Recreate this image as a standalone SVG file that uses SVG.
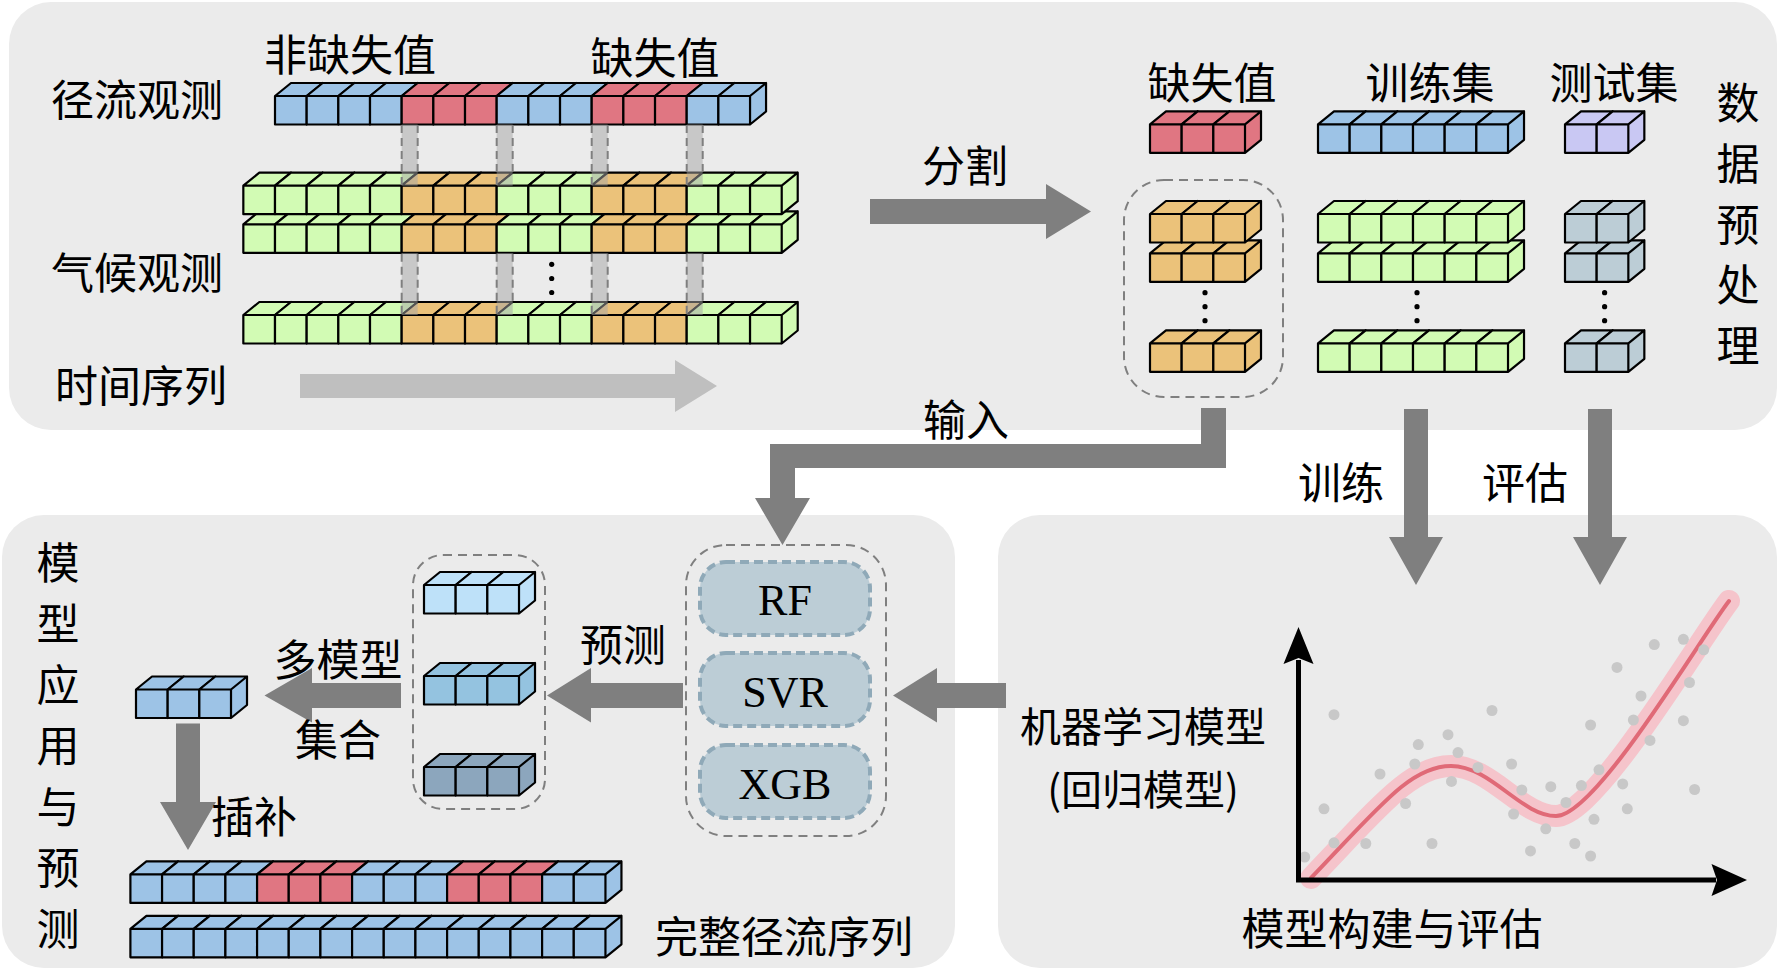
<svg xmlns="http://www.w3.org/2000/svg" width="1779" height="970" viewBox="0 0 1779 970">
<style>
.panel{fill:#ebebeb}
.t{font-family:"Noto Sans CJK SC","Noto Sans CJK JP",sans-serif;font-size:43px;fill:#000;text-anchor:middle;dominant-baseline:central}
.t2{font-family:"Noto Sans CJK SC","Noto Sans CJK JP",sans-serif;font-size:41px;fill:#000;text-anchor:middle;dominant-baseline:central}
.m{font-family:"Liberation Serif",serif;font-size:44px;fill:#000;text-anchor:middle;dominant-baseline:central}
.cube{stroke:#000;stroke-width:2.2;stroke-linejoin:round}
.B{fill:#9dc3e6}.R{fill:#e07682}.G{fill:#d2fbb4}.O{fill:#ebc27a}.L{fill:#c9c8f3}.S{fill:#bccdd6}
.P1{fill:#bee1f9}.P2{fill:#94c3e0}.P3{fill:#8ca6bd}
.arrow{fill:#7f7f7f}
.dash{fill:none;stroke:#7f7f7f;stroke-width:2;stroke-dasharray:9 6}
.mbox{fill:#bccdd6;stroke:#8fa9b8;stroke-width:4;stroke-dasharray:9 5}
.band{fill:#a6a6a6;fill-opacity:0.5}
.bl{stroke:#7f7f7f;stroke-width:2;stroke-dasharray:8 5}
.dot{fill:#000}
.sc{fill:#c8c8c8}
</style>
<defs>
<path id="c" d="M0 0h31.67v28.5H0z M0 0l16-13h31.67l-16 13z M31.67 0l16-13v28.5l-16 13z"/>
</defs>
<rect width="1779" height="970" fill="#fff"/>
<g id="panels">
<rect class="panel" x="9" y="2" width="1768" height="428" rx="42"/>
<rect class="panel" x="2" y="515" width="953" height="453" rx="42"/>
<rect class="panel" x="998" y="515" width="779" height="453" rx="42"/>
</g>

<g id="runoff-obs">
<text class="t" x="137" y="97">径流观测</text>
<text class="t" x="350" y="52">非缺失值</text>
<text class="t" x="655" y="55">缺失值</text>
<g transform="translate(275,96)">
<use href="#c" x="0" class="cube B"/><use href="#c" x="31.67" class="cube B"/><use href="#c" x="63.34" class="cube B"/><use href="#c" x="95.01" class="cube B"/><use href="#c" x="126.68" class="cube R"/><use href="#c" x="158.35" class="cube R"/><use href="#c" x="190.02" class="cube R"/><use href="#c" x="221.69" class="cube B"/><use href="#c" x="253.36" class="cube B"/><use href="#c" x="285.03" class="cube B"/><use href="#c" x="316.7" class="cube R"/><use href="#c" x="348.37" class="cube R"/><use href="#c" x="380.04" class="cube R"/><use href="#c" x="411.71" class="cube B"/><use href="#c" x="443.38" class="cube B"/>
</g>
</g>

<g id="climate-obs">
<text class="t" x="137" y="270">气候观测</text>
<g transform="translate(243.33,315)">
<use href="#c" x="0" class="cube G"/><use href="#c" x="31.67" class="cube G"/><use href="#c" x="63.34" class="cube G"/><use href="#c" x="95.01" class="cube G"/><use href="#c" x="126.68" class="cube G"/><use href="#c" x="158.35" class="cube O"/><use href="#c" x="190.02" class="cube O"/><use href="#c" x="221.69" class="cube O"/><use href="#c" x="253.36" class="cube G"/><use href="#c" x="285.03" class="cube G"/><use href="#c" x="316.7" class="cube G"/><use href="#c" x="348.37" class="cube O"/><use href="#c" x="380.04" class="cube O"/><use href="#c" x="411.71" class="cube O"/><use href="#c" x="443.38" class="cube G"/><use href="#c" x="475.05" class="cube G"/><use href="#c" x="506.72" class="cube G"/>
</g>
<g transform="translate(243.33,224.3)">
<use href="#c" x="0" class="cube G"/><use href="#c" x="31.67" class="cube G"/><use href="#c" x="63.34" class="cube G"/><use href="#c" x="95.01" class="cube G"/><use href="#c" x="126.68" class="cube G"/><use href="#c" x="158.35" class="cube O"/><use href="#c" x="190.02" class="cube O"/><use href="#c" x="221.69" class="cube O"/><use href="#c" x="253.36" class="cube G"/><use href="#c" x="285.03" class="cube G"/><use href="#c" x="316.7" class="cube G"/><use href="#c" x="348.37" class="cube O"/><use href="#c" x="380.04" class="cube O"/><use href="#c" x="411.71" class="cube O"/><use href="#c" x="443.38" class="cube G"/><use href="#c" x="475.05" class="cube G"/><use href="#c" x="506.72" class="cube G"/>
</g>
<g transform="translate(243.33,185.7)">
<use href="#c" x="0" class="cube G"/><use href="#c" x="31.67" class="cube G"/><use href="#c" x="63.34" class="cube G"/><use href="#c" x="95.01" class="cube G"/><use href="#c" x="126.68" class="cube G"/><use href="#c" x="158.35" class="cube O"/><use href="#c" x="190.02" class="cube O"/><use href="#c" x="221.69" class="cube O"/><use href="#c" x="253.36" class="cube G"/><use href="#c" x="285.03" class="cube G"/><use href="#c" x="316.7" class="cube G"/><use href="#c" x="348.37" class="cube O"/><use href="#c" x="380.04" class="cube O"/><use href="#c" x="411.71" class="cube O"/><use href="#c" x="443.38" class="cube G"/><use href="#c" x="475.05" class="cube G"/><use href="#c" x="506.72" class="cube G"/>
</g>
<circle class="dot" cx="551.7" cy="264.3" r="2.6"/><circle class="dot" cx="551.7" cy="278.5" r="2.6"/><circle class="dot" cx="551.7" cy="292.5" r="2.6"/>
</g>

<g id="alignment-bands">
<rect class="band" x="401.68" y="124.5" width="16" height="61.2"/><rect class="band" x="401.68" y="253" width="16" height="62"/>
<rect class="band" x="496.69" y="124.5" width="16" height="61.2"/><rect class="band" x="496.69" y="253" width="16" height="62"/>
<rect class="band" x="591.7" y="124.5" width="16" height="61.2"/><rect class="band" x="591.7" y="253" width="16" height="62"/>
<rect class="band" x="686.71" y="124.5" width="16" height="61.2"/><rect class="band" x="686.71" y="253" width="16" height="62"/>
<path class="bl" d="M401.68 125V185.7M417.68 125V172.7M401.68 253.8V315M417.68 253.8V302M496.69 125V185.7M512.69 125V172.7M496.69 253.8V315M512.69 253.8V302M591.7 125V185.7M607.7 125V172.7M591.7 253.8V315M607.7 253.8V302M686.71 125V185.7M702.71 125V172.7M686.71 253.8V315M702.71 253.8V302"/>
</g>

<g id="time-axis">
<text class="t" x="141" y="383">时间序列</text>
<path fill="#bfbfbf" d="M300 374H675V360L717 386L675 412V398H300Z"/>
</g>

<g id="split-missing">
<text class="t" x="1212" y="80">缺失值</text>
<g transform="translate(1150,124.3)"><use href="#c" x="0" class="cube R"/><use href="#c" x="31.67" class="cube R"/><use href="#c" x="63.34" class="cube R"/></g>
<rect class="dash" x="1124" y="180" width="159" height="217" rx="40"/>
<g transform="translate(1150,343.3)"><use href="#c" x="0" class="cube O"/><use href="#c" x="31.67" class="cube O"/><use href="#c" x="63.34" class="cube O"/></g>
<g transform="translate(1150,253.3)"><use href="#c" x="0" class="cube O"/><use href="#c" x="31.67" class="cube O"/><use href="#c" x="63.34" class="cube O"/></g>
<g transform="translate(1150,214)"><use href="#c" x="0" class="cube O"/><use href="#c" x="31.67" class="cube O"/><use href="#c" x="63.34" class="cube O"/></g>
<circle class="dot" cx="1205" cy="292.7" r="2.6"/><circle class="dot" cx="1205" cy="306.7" r="2.6"/><circle class="dot" cx="1205" cy="320.7" r="2.6"/>
</g>

<g id="split-train">
<text class="t" x="1430" y="80">训练集</text>
<g transform="translate(1318,124.3)"><use href="#c" x="0" class="cube B"/><use href="#c" x="31.67" class="cube B"/><use href="#c" x="63.34" class="cube B"/><use href="#c" x="95.01" class="cube B"/><use href="#c" x="126.68" class="cube B"/><use href="#c" x="158.35" class="cube B"/></g>
<g transform="translate(1318,343.3)"><use href="#c" x="0" class="cube G"/><use href="#c" x="31.67" class="cube G"/><use href="#c" x="63.34" class="cube G"/><use href="#c" x="95.01" class="cube G"/><use href="#c" x="126.68" class="cube G"/><use href="#c" x="158.35" class="cube G"/></g>
<g transform="translate(1318,253.3)"><use href="#c" x="0" class="cube G"/><use href="#c" x="31.67" class="cube G"/><use href="#c" x="63.34" class="cube G"/><use href="#c" x="95.01" class="cube G"/><use href="#c" x="126.68" class="cube G"/><use href="#c" x="158.35" class="cube G"/></g>
<g transform="translate(1318,214)"><use href="#c" x="0" class="cube G"/><use href="#c" x="31.67" class="cube G"/><use href="#c" x="63.34" class="cube G"/><use href="#c" x="95.01" class="cube G"/><use href="#c" x="126.68" class="cube G"/><use href="#c" x="158.35" class="cube G"/></g>
<circle class="dot" cx="1417" cy="292.7" r="2.6"/><circle class="dot" cx="1417" cy="306.7" r="2.6"/><circle class="dot" cx="1417" cy="320.7" r="2.6"/>
</g>

<g id="split-test">
<text class="t" x="1614" y="80">测试集</text>
<g transform="translate(1565,124.3)"><use href="#c" x="0" class="cube L"/><use href="#c" x="31.67" class="cube L"/></g>
<g transform="translate(1565,343.3)"><use href="#c" x="0" class="cube S"/><use href="#c" x="31.67" class="cube S"/></g>
<g transform="translate(1565,253.3)"><use href="#c" x="0" class="cube S"/><use href="#c" x="31.67" class="cube S"/></g>
<g transform="translate(1565,214)"><use href="#c" x="0" class="cube S"/><use href="#c" x="31.67" class="cube S"/></g>
<circle class="dot" cx="1604.6" cy="292.7" r="2.6"/><circle class="dot" cx="1604.6" cy="306.7" r="2.6"/><circle class="dot" cx="1604.6" cy="320.7" r="2.6"/>
</g>

<g id="preprocess-title">
<text class="t" x="1738" y="100">数</text><text class="t" x="1738" y="161">据</text><text class="t" x="1738" y="222">预</text><text class="t" x="1738" y="282">处</text><text class="t" x="1738" y="343">理</text>
</g>

<g id="model-eval">
<path fill="none" stroke="#f5c4cb" stroke-width="22" stroke-linecap="round" d="M1311 878C1381 805 1411 766 1451 766C1491 766 1521 816 1556 816C1596 816 1699 640 1729 601"/>
<path fill="none" stroke="#e06a77" stroke-width="4" stroke-linecap="round" d="M1311 878C1381 805 1411 766 1451 766C1491 766 1521 816 1556 816C1596 816 1699 640 1729 601"/>
<g>
<circle class="sc" cx="1304.7" cy="857" r="5.5"/><circle class="sc" cx="1334" cy="714.7" r="5.5"/><circle class="sc" cx="1324" cy="808.8" r="5.5"/><circle class="sc" cx="1334" cy="842.8" r="5.5"/><circle class="sc" cx="1365.8" cy="843.5" r="5.5"/><circle class="sc" cx="1380" cy="774" r="5.5"/><circle class="sc" cx="1405.6" cy="803.5" r="5.5"/><circle class="sc" cx="1414.8" cy="764" r="5.5"/><circle class="sc" cx="1418.3" cy="744.6" r="5.5"/><circle class="sc" cx="1432" cy="843.5" r="5.5"/><circle class="sc" cx="1448" cy="734.7" r="5.5"/><circle class="sc" cx="1458" cy="752.6" r="5.5"/><circle class="sc" cx="1451.5" cy="781.4" r="5.5"/><circle class="sc" cx="1478" cy="767.4" r="5.5"/><circle class="sc" cx="1492" cy="710.5" r="5.5"/><circle class="sc" cx="1511.6" cy="764" r="5.5"/><circle class="sc" cx="1521.8" cy="790" r="5.5"/><circle class="sc" cx="1513.6" cy="814" r="5.5"/><circle class="sc" cx="1530.5" cy="850.9" r="5.5"/><circle class="sc" cx="1545.8" cy="828.8" r="5.5"/><circle class="sc" cx="1550.8" cy="786.7" r="5.5"/><circle class="sc" cx="1566" cy="802.5" r="5.5"/><circle class="sc" cx="1574.8" cy="843.5" r="5.5"/><circle class="sc" cx="1590.6" cy="856" r="5.5"/><circle class="sc" cx="1581.4" cy="785.6" r="5.5"/><circle class="sc" cx="1594" cy="819.3" r="5.5"/><circle class="sc" cx="1590.6" cy="725" r="5.5"/><circle class="sc" cx="1599" cy="769.8" r="5.5"/><circle class="sc" cx="1617" cy="667.4" r="5.5"/><circle class="sc" cx="1622.7" cy="783.9" r="5.5"/><circle class="sc" cx="1627.3" cy="808.8" r="5.5"/><circle class="sc" cx="1633.4" cy="720" r="5.5"/><circle class="sc" cx="1641" cy="696" r="5.5"/><circle class="sc" cx="1650" cy="740.4" r="5.5"/><circle class="sc" cx="1654.3" cy="644.6" r="5.5"/><circle class="sc" cx="1683.4" cy="639.3" r="5.5"/><circle class="sc" cx="1689.5" cy="682.5" r="5.5"/><circle class="sc" cx="1683.4" cy="720.7" r="5.5"/><circle class="sc" cx="1703.7" cy="649.8" r="5.5"/><circle class="sc" cx="1694.6" cy="789.5" r="5.5"/>
</g>
<path stroke="#000" stroke-width="5" fill="none" d="M1298.5 882V660M1296 880H1716"/>
<path fill="#000" d="M1298.5 627L1313.5 664L1298.5 658L1283.5 664Z M1747 880L1711.5 864L1717 880L1711.5 896Z"/>
<text class="t2" x="1143" y="724">机器学习模型</text>
<text class="t2" x="1143" y="787">(回归模型)</text>
<text class="t" x="1392" y="926">模型构建与评估</text>
</g>

<g id="models">
<rect class="dash" x="686" y="545" width="200" height="291" rx="40"/>
<rect class="mbox" x="700" y="562" width="170" height="73" rx="26"/>
<rect class="mbox" x="700" y="653" width="170" height="73" rx="26"/>
<rect class="mbox" x="700" y="745" width="170" height="73" rx="26"/>
<text class="m" x="785" y="600">RF</text>
<text class="m" x="785" y="692">SVR</text>
<text class="m" x="785" y="784">XGB</text>
</g>

<g id="predictions">
<rect class="dash" x="413" y="555" width="132" height="254" rx="30"/>
<g transform="translate(424,585)"><use href="#c" x="0" class="cube P1"/><use href="#c" x="31.67" class="cube P1"/><use href="#c" x="63.34" class="cube P1"/></g>
<g transform="translate(424,676)"><use href="#c" x="0" class="cube P2"/><use href="#c" x="31.67" class="cube P2"/><use href="#c" x="63.34" class="cube P2"/></g>
<g transform="translate(424,767)"><use href="#c" x="0" class="cube P3"/><use href="#c" x="31.67" class="cube P3"/><use href="#c" x="63.34" class="cube P3"/></g>
</g>

<g id="ensemble-result">
<g transform="translate(136,689.5)"><use href="#c" x="0" class="cube B"/><use href="#c" x="31.67" class="cube B"/><use href="#c" x="63.34" class="cube B"/></g>
</g>

<g id="imputed-series">
<g transform="translate(130.4,874.4)">
<use href="#c" x="0" class="cube B"/><use href="#c" x="31.67" class="cube B"/><use href="#c" x="63.34" class="cube B"/><use href="#c" x="95.01" class="cube B"/><use href="#c" x="126.68" class="cube R"/><use href="#c" x="158.35" class="cube R"/><use href="#c" x="190.02" class="cube R"/><use href="#c" x="221.69" class="cube B"/><use href="#c" x="253.36" class="cube B"/><use href="#c" x="285.03" class="cube B"/><use href="#c" x="316.7" class="cube R"/><use href="#c" x="348.37" class="cube R"/><use href="#c" x="380.04" class="cube R"/><use href="#c" x="411.71" class="cube B"/><use href="#c" x="443.38" class="cube B"/>
</g>
<g transform="translate(130.4,928.8)">
<use href="#c" x="0" class="cube B"/><use href="#c" x="31.67" class="cube B"/><use href="#c" x="63.34" class="cube B"/><use href="#c" x="95.01" class="cube B"/><use href="#c" x="126.68" class="cube B"/><use href="#c" x="158.35" class="cube B"/><use href="#c" x="190.02" class="cube B"/><use href="#c" x="221.69" class="cube B"/><use href="#c" x="253.36" class="cube B"/><use href="#c" x="285.03" class="cube B"/><use href="#c" x="316.7" class="cube B"/><use href="#c" x="348.37" class="cube B"/><use href="#c" x="380.04" class="cube B"/><use href="#c" x="411.71" class="cube B"/><use href="#c" x="443.38" class="cube B"/>
</g>
<text class="t" x="784" y="934">完整径流序列</text>
</g>

<g id="application-title">
<text class="t" x="58" y="560">模</text><text class="t" x="58" y="621">型</text><text class="t" x="58" y="682">应</text><text class="t" x="58" y="743">用</text><text class="t" x="58" y="804">与</text><text class="t" x="58" y="865">预</text><text class="t" x="58" y="926">测</text>
</g>

<g id="connectors">
<path class="arrow" d="M870 199H1046V184L1091 211.5L1046 239V224H870Z"/>
<path class="arrow" d="M1201 408H1226V468H795V498H810L782.5 545L755 498H770V444H1201Z"/>
<path class="arrow" d="M1404 409H1428V537H1443L1416 585L1389 537H1404Z"/>
<path class="arrow" d="M1588 409H1612V537H1627L1600 585L1573 537H1588Z"/>
<path class="arrow" d="M1006 683V708H937V722.5L893 695.5L937 668V683Z"/>
<path class="arrow" d="M683 683V708H591V722.5L547 695.5L591 668V683Z"/>
<path class="arrow" d="M401 683V708H312V722.5L264.5 695.5L312 668V683Z"/>
<path class="arrow" d="M176 723.5H200V802H216L188 850L160 802H176Z"/>
<text class="t" x="965" y="163">分割</text>
<text class="t" x="966" y="417">输入</text>
<text class="t" x="1341" y="480">训练</text>
<text class="t" x="1525" y="480">评估</text>
<text class="t" x="623" y="642">预测</text>
<text class="t" x="338" y="657">多模型</text>
<text class="t" x="338" y="737">集合</text>
<text class="t" x="254" y="814">插补</text>
</g>
</svg>
